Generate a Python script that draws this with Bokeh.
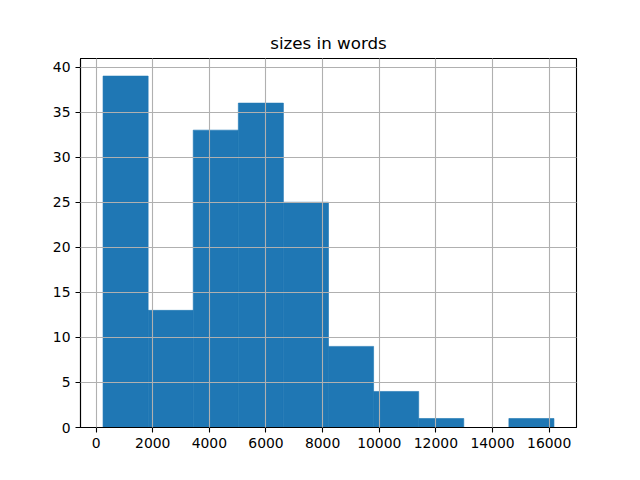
from bokeh.plotting import figure
from bokeh.models import FixedTicker, Range1d, BasicTickFormatter
from bokeh.embed import file_html
from bokeh.resources import INLINE

# histogram data
bin_edges = [245, 1838, 3430, 5023, 6615, 8208, 9800, 11393, 12985, 14578, 16170]
counts = [39, 13, 33, 36, 25, 9, 4, 1, 0, 1]
x_ticks = [0, 2000, 4000, 6000, 8000, 10000, 12000, 14000, 16000]
y_ticks = [0, 5, 10, 15, 20, 25, 30, 35, 40]
title_text = "sizes in words"

span = bin_edges[-1] - bin_edges[0]
p = figure(width=624, height=464, output_backend="svg", toolbar_location=None,
           x_range=Range1d(bin_edges[0] - 0.05 * span, bin_edges[-1] + 0.05 * span),
           y_range=Range1d(0, max(counts) * 1.05),
           min_border_left=80, min_border_right=48, min_border_top=58, min_border_bottom=37,
           frame_width=496, frame_height=369)
p.title.text = title_text
p.title.align = "center"
p.title.text_font = "DejaVu Sans"
p.title.text_font_size = "16.7px"
p.title.text_font_style = "normal"
p.title.text_color = "black"
p.title.standoff = 11

p.quad(left=bin_edges[:-1], right=bin_edges[1:], top=counts, bottom=0,
       fill_color="#1f77b4", line_color="#1f77b4", line_width=0.6)

for ax, ticks in ((p.xaxis, x_ticks), (p.yaxis, y_ticks)):
    ax.ticker = FixedTicker(ticks=ticks)
    ax.formatter = BasicTickFormatter(use_scientific=False)
    ax.minor_tick_line_color = None
    ax.major_tick_out = 5
    ax.major_tick_in = 0
    ax.major_tick_line_width = 1.1
    ax.major_tick_line_color = "black"
    ax.axis_line_color = "black"
    ax.axis_line_width = 1.1
    ax.major_label_text_font = "DejaVu Sans"
    ax.major_label_text_font_size = "13.9px"
    ax.major_label_text_color = "black"
    ax.major_label_standoff = 5

for g in (p.xgrid, p.ygrid):
    g.grid_line_color = "#b0b0b0"
    g.grid_line_width = 1.1
    g.level = "overlay"

p.outline_line_color = "black"
p.outline_line_width = 1.1
p.outline_line_alpha = 1.0

open("out.html", "w").write(file_html(p, INLINE))
